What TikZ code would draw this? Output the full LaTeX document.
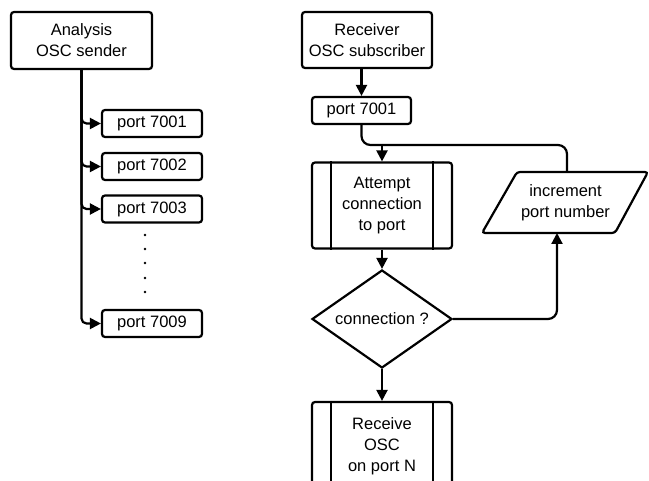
\documentclass[tikz,border=0pt]{standalone}
\usepackage{fontspec}
\setmainfont{Liberation Sans}
\usetikzlibrary{arrows.meta,shapes.geometric,calc}
\begin{document}
\begin{tikzpicture}[x=1pt,y=-1pt,
  every node/.style={font=\fontsize{16.5}{21}\selectfont, align=center, inner sep=0pt},
  box/.style={draw, line width=2.2pt, rounded corners=3pt},
  portbox/.style={box, minimum width=100pt, minimum height=27pt},
  arr/.style={line width=2.2pt, -{Triangle[length=11pt,width=11pt]}},
  ln/.style={line width=2.2pt},
  proc/.style={box, minimum width=140pt, minimum height=86pt}]
\useasboundingbox (0,0) rectangle (649,481);

% left: sender
\node[box, minimum width=141pt, minimum height=57pt] (ana) at (81.5,40.5) {Analysis\\OSC sender};
\node[portbox] (p1) at (152,123.5) {port 7001};
\node[portbox] (p2) at (152,166.5) {port 7002};
\node[portbox] (p3) at (152,209) {port 7003};
\node[portbox] (p9) at (152,323.5) {port 7009};
\foreach \t in {p1,p2,p3,p9}
  \draw[arr, rounded corners=5pt] (ana.south) |- (\t.west);
\foreach \y in {235,249,263,278,292}
  \fill (145,\y) circle (1.3pt);

% right: receiver
\node[box, minimum width=130pt, minimum height=56pt] (rec) at (367,40) {Receiver\\OSC subscriber};
\node[box, minimum width=99pt, minimum height=27pt] (rp) at (361.5,110.5) {port 7001};
\draw[arr] (rp.north |- rec.south) -- (rp.north);

\node[proc] (att) at (382,205.5) {Attempt\\connection\\to port};
\draw[ln] ($(att.north west)+(20,0)$) -- ($(att.south west)+(20,0)$);
\draw[ln] ($(att.north east)+(-20,0)$) -- ($(att.south east)+(-20,0)$);

\node[draw, diamond, line width=2.2pt, aspect=1.43, minimum width=140pt, minimum height=98pt] (dec) at (382,319) {connection ?};

\node[proc, minimum height=88pt] (rcv) at (382,446) {Receive\\OSC\\on port N};
\draw[ln] ($(rcv.north west)+(20,0)$) -- ($(rcv.south west)+(20,0)$);
\draw[ln] ($(rcv.north east)+(-20,0)$) -- ($(rcv.south east)+(-20,0)$);

\node (inc) at (565.5,202.5) {increment\\port number};
\draw[box] ($(inc)+(-48.5,-30.5)$) -- ($(inc)+(82.5,-30.5)$) -- ($(inc)+(49.5,30.5)$) -- ($(inc)+(-83.5,30.5)$) -- cycle;
\coordinate (inctop) at ($(inc)+(1.5,-30.5)$);
\coordinate (incbot) at ($(inc)+(-8.5,30.5)$);

\coordinate (j) at (382,145);
\draw[ln, rounded corners=9pt] (rp.south) |- (j);
\draw[ln, rounded corners=9pt] (inctop) |- (j);
\draw[arr] (j) -- (att.north);
\draw[arr] (att.south) -- (dec.north);
\draw[arr] (dec.south) -- (rcv.north);
\draw[arr, rounded corners=9pt] (dec.east) -| (incbot);
\end{tikzpicture}
\end{document}
